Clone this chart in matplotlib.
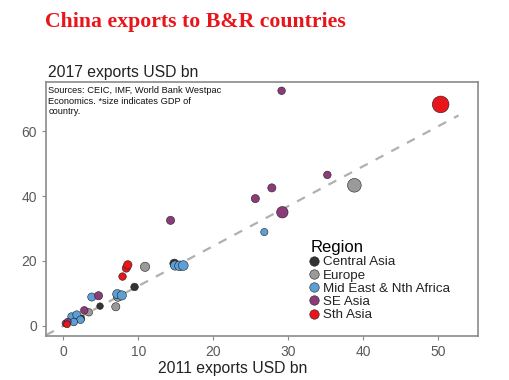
import numpy as np
import matplotlib
matplotlib.use("Agg")
import matplotlib.pyplot as plt
from matplotlib.lines import Line2D

plt.rcParams["font.family"] = ["Liberation Sans", "DejaVu Sans"]

# -----------------------------------------------------------------------------
# Data (USD bn), size ~ GDP (USD tn)
# -----------------------------------------------------------------------------
regions = ["Central Asia", "Europe", "Mid East & Nth Africa", "SE Asia", "Sth Asia"]
region_colors = ["#333333", "#9a9a9a", "#5b9fd6", "#8b3a7a", "#e8161b"]

exp_2011 = {
    "Central Asia": [0.9, 2.4, 1.6, 4.9, 9.5, 14.8],
    "Europe": [3.4, 7.0, 7.3, 10.9, 38.8],
    "Mid East & Nth Africa": [1.1, 1.8, 2.3, 1.4, 3.8, 7.2, 7.8, 14.9, 15.5, 16.0, 26.8],
    "SE Asia": [0.3, 0.6, 2.8, 4.7, 14.3, 25.6, 27.8, 29.2, 29.1, 35.2],
    "Sth Asia": [0.5, 7.9, 8.4, 8.6, 50.3],
}
exp_2017 = {
    "Central Asia": [1.5, 2.3, 2.0, 6.1, 12.0, 19.2],
    "Europe": [4.2, 5.9, 9.0, 18.2, 43.3],
    "Mid East & Nth Africa": [2.9, 3.4, 1.9, 1.2, 8.9, 9.8, 9.4, 18.6, 18.5, 18.6, 28.9],
    "SE Asia": [0.8, 1.3, 4.8, 9.3, 32.5, 39.2, 42.5, 35.0, 72.4, 46.5],
    "Sth Asia": [0.5, 15.2, 17.8, 18.8, 68.2],
}
gdp = {
    "Central Asia": [0.1, 0.1, 0.1, 0.05, 0.2, 0.45],
    "Europe": [0.2, 0.3, 0.5, 0.5, 1.6],
    "Mid East & Nth Africa": [0.2, 0.3, 0.2, 0.2, 0.3, 0.5, 0.5, 0.5, 0.6, 0.6, 0.15],
    "SE Asia": [0.1, 0.1, 0.2, 0.3, 0.3, 0.3, 0.3, 1.0, 0.2, 0.2],
    "Sth Asia": [0.1, 0.2, 0.3, 0.35, 2.6],
}

trend_slope = 1.23
trend_x = [-2.3, 52.7]

x_ticks = [0, 10, 20, 30, 40, 50]
y_ticks = [0, 20, 40, 60]

# -----------------------------------------------------------------------------
# Figure
# -----------------------------------------------------------------------------
fig = plt.figure(figsize=(5.09, 3.80), dpi=100)
ax = fig.add_axes([0.0904, 0.1158, 0.849, 0.6684])

ax.plot(trend_x, [trend_slope * v for v in trend_x], ls=(0, (4, 4)),
        color="#b0b0b0", lw=1.6, zorder=1)

for reg, col in zip(regions, region_colors):
    s = 20 + 48 * np.array(gdp[reg])
    ax.scatter(exp_2011[reg], exp_2017[reg], s=s, color=col,
               edgecolor="#222222", linewidth=0.4, zorder=3)

ax.set_xlim(-2.3, 55.3)
ax.set_ylim(-3.1, 75.1)
ax.set_xticks(x_ticks)
ax.set_yticks(y_ticks)
ax.tick_params(axis="both", colors="#8a8a8a", labelcolor="#5a5a5a",
               labelsize=10, length=3, width=0.8)

for sp in ax.spines.values():
    sp.set_color("#8a8a8a")
    sp.set_linewidth(1.2)

ax.text(0.005, 0.985,
        "Sources: CEIC, IMF, World Bank Westpac\nEconomics. *size indicates GDP of\ncountry.",
        transform=ax.transAxes, ha="left", va="top", fontsize=6.7,
        linespacing=1.25, color="#111111")

handles = [
    Line2D([], [], marker="o", ls="none", markersize=6.8, markerfacecolor=c,
           markeredgecolor="#222222", markeredgewidth=0.4, label=r)
    for r, c in zip(regions, region_colors)
]
leg = ax.legend(handles=handles, title="Region", loc="upper left",
                bbox_to_anchor=(0.612, 0.378), frameon=False, fontsize=9.6,
                title_fontsize=12, labelspacing=0.07, handlelength=0.6,
                handletextpad=0.35, borderpad=0, borderaxespad=0,
                alignment="left")
for t in leg.get_texts():
    t.set_color("#222222")

fig.text(0.088, 0.942, "China exports to B&R countries", ha="left",
         va="center", fontsize=15.7, fontweight="bold", color="#e8161b",
         family=["Liberation Serif", "DejaVu Serif"])
fig.text(0.094, 0.81, "2017 exports USD bn", ha="left", va="center",
         fontsize=11.3, color="#222222")
fig.text(0.458, 0.03, "2011 exports USD bn", ha="center", va="center",
         fontsize=11.3, color="#222222")

fig.savefig("out.png", dpi=100)
